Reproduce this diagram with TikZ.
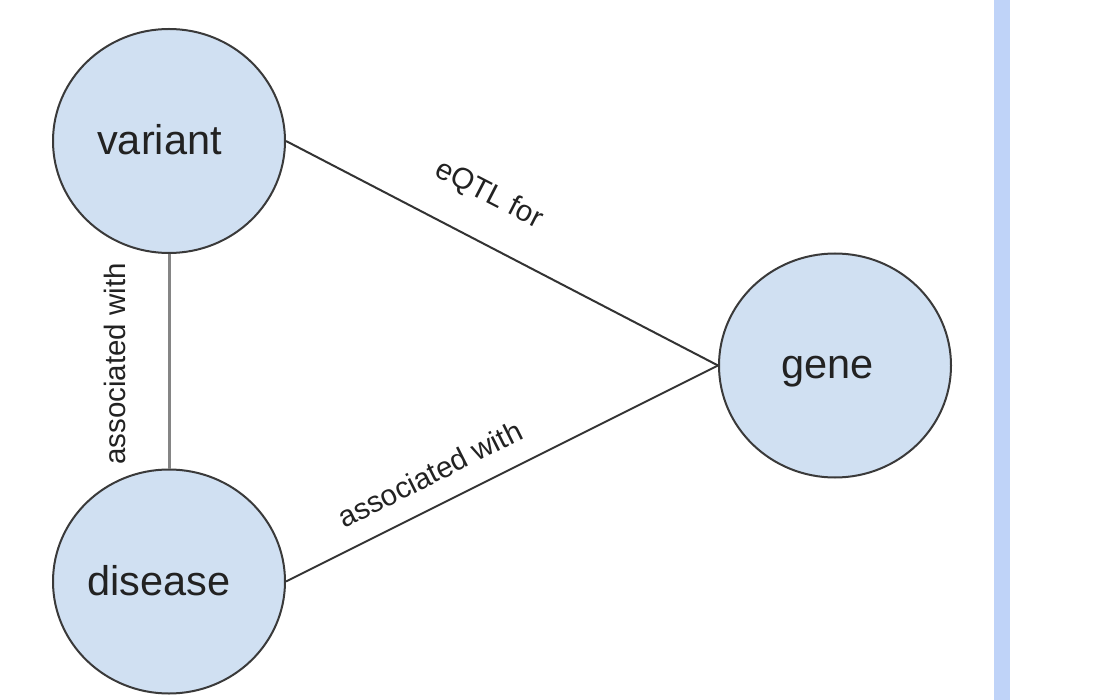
\documentclass[tikz,border=0pt]{standalone}
\usepackage{fontspec}
\setmainfont{Liberation Sans}
\usetikzlibrary{shapes.geometric}
\definecolor{circfill}{HTML}{D0E0F2}
\definecolor{circline}{HTML}{3A3A3A}
\definecolor{edgeline}{HTML}{333333}
\definecolor{vertline}{HTML}{858585}
\definecolor{barblue}{HTML}{BFD3F8}
\definecolor{txtcol}{HTML}{222222}
\begin{document}
\begin{tikzpicture}[x=1pt,y=-1pt,
  entity/.style={ellipse, draw=circline, line width=2pt, fill=circfill,
    minimum width=232pt, minimum height=224pt, inner sep=0pt},
  bigtxt/.style={font=\fontsize{41.5}{48}\selectfont, text=txtcol, anchor=base, inner sep=0pt},
  edgetxt/.style={font=\fontsize{29.5}{34}\selectfont, text=txtcol, inner sep=0pt},
  conn/.style={draw=edgeline, line width=2pt},
  vconn/.style={draw=vertline, line width=3pt}]
\useasboundingbox (0,0) rectangle (1116,700);
\fill[white] (0,0) rectangle (1116,700);
\fill[barblue] (994,0) rectangle (1010,700);

\node[entity] (variant) at (169,141) {};
\node[entity] (disease) at (169,581.5) {};
\node[entity] (gene) at (835,365.5) {};

\node[bigtxt] (varianttxt) at (159.5,155) {variant};
\node[bigtxt] (diseasetxt) at (159,595) {disease};
\node[bigtxt] (genetxt) at (827.5,378) {gene};

\draw[vconn] (variant.south) -- (disease.north);
\draw[conn] (variant.east) -- (gene.west);
\draw[conn] (disease.east) -- (gene.west);

\node[edgetxt, rotate=90] (l1) at (114.5,364) {associated with};
\node[edgetxt, rotate=-27.3] (l2) at (489,195) {eQTL for};
\node[edgetxt, rotate=26.6] (l3) at (430,474) {associated with};
\end{tikzpicture}
\end{document}
